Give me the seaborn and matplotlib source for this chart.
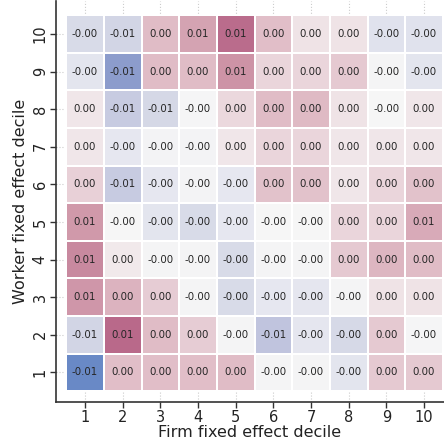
import numpy as np
import pandas as pd
import seaborn as sns
import matplotlib
matplotlib.use("Agg")
import matplotlib.pyplot as plt
from matplotlib.colors import LinearSegmentedColormap

firm_deciles = [1, 2, 3, 4, 5, 6, 7, 8, 9, 10]
worker_deciles = [10, 9, 8, 7, 6, 5, 4, 3, 2, 1]

# rows from worker decile 10 (top) to 1 (bottom)
row_w10 = [-0.0045, -0.0052, 0.0040, 0.0062, 0.0112, 0.0038, 0.0012, 0.0012, -0.0030, -0.0030]
row_w9 = [-0.0025, -0.0090, 0.0040, 0.0040, 0.0075, 0.0022, 0.0022, 0.0030, -0.0003, -0.0025]
row_w8 = [0.0010, -0.0060, -0.0050, -0.0002, 0.0020, 0.0040, 0.0042, 0.0012, -0.0001, 0.0010]
row_w7 = [0.0010, -0.0020, -0.0004, -0.0004, 0.0010, 0.0022, 0.0022, 0.0010, 0.0010, 0.0010]
row_w6 = [0.0025, -0.0060, -0.0020, -0.0004, -0.0020, 0.0035, 0.0035, 0.0010, 0.0022, 0.0035]
row_w5 = [0.0070, -0.0001, -0.0025, -0.0045, -0.0020, -0.0001, -0.0001, 0.0022, 0.0022, 0.0055]
row_w4 = [0.0085, 0.0008, -0.0003, -0.0003, -0.0045, -0.0003, -0.0003, 0.0030, 0.0045, 0.0040]
row_w3 = [0.0072, 0.0048, 0.0028, -0.0003, -0.0045, -0.0020, -0.0022, -0.0003, 0.0012, 0.0012]
row_w2 = [-0.0052, 0.0115, 0.0040, 0.0028, -0.0003, -0.0065, -0.0022, -0.0048, 0.0030, -0.0002]
row_w1 = [-0.0125, 0.0038, 0.0038, 0.0038, 0.0040, -0.0003, -0.0003, -0.0025, 0.0030, 0.0030]

data = pd.DataFrame(
    [row_w10, row_w9, row_w8, row_w7, row_w6, row_w5, row_w4, row_w3, row_w2, row_w1],
    index=worker_deciles, columns=firm_deciles)

sns.set_style("ticks")
plt.rcParams['font.family'] = ['DejaVu Sans']

vmax = 0.0135
anchors = [(-0.0135, "#5a7cc2"), (-0.0125, "#6a8ac6"), (-0.009, "#8d9ccc"),
           (-0.0065, "#c0c4de"), (-0.005, "#d5d8e6"), (-0.002, "#e6e7f0"),
           (0.0, "#f6f6f6"), (0.0012, "#efe3e6"), (0.0025, "#e8d0d7"),
           (0.004, "#e0bcc6"), (0.0072, "#cf97a9"), (0.0115, "#b96a8a"),
           (0.0135, "#b05a80")]
cmap = LinearSegmentedColormap.from_list(
    "custom", [((v + vmax) / (2 * vmax), c) for v, c in anchors])

fig = plt.figure(figsize=(4.44, 4.41), dpi=100)
ax = fig.add_axes([56 / 444, 1 - 402 / 441, 1 - 56 / 444, 402 / 441 - 0.002])

sns.heatmap(data, ax=ax, cmap=cmap, vmin=-vmax, vmax=vmax,
            annot=True, fmt=".2f", annot_kws={"size": 7.4, "color": "#262626"},
            linewidths=1.2, linecolor="white", cbar=False)

ax.grid(True, linestyle=':', color='#cccccc', linewidth=0.8)
ax.set_axisbelow(True)
ax.set_xlim(-0.27, 10.03)
ax.set_ylim(10.29, -0.38)
for s in ['top', 'right']:
    ax.spines[s].set_visible(False)
for s in ['left', 'bottom']:
    ax.spines[s].set_visible(True)
    ax.spines[s].set_color('#333333')
    ax.spines[s].set_linewidth(1.2)

ax.tick_params(axis='both', labelsize=10.5, length=4, width=1, color='#333333',
               labelcolor='#222222', pad=2)
ax.set_yticklabels(worker_deciles, rotation=90, va='center')
ax.set_xticklabels(firm_deciles, rotation=0)
ax.set_xlabel("Firm fixed effect decile", fontsize=11.5, labelpad=0, color='#222222')
ax.set_ylabel("Worker fixed effect decile", fontsize=11.5, labelpad=3, color='#222222')

fig.savefig("out.png", dpi=100)
